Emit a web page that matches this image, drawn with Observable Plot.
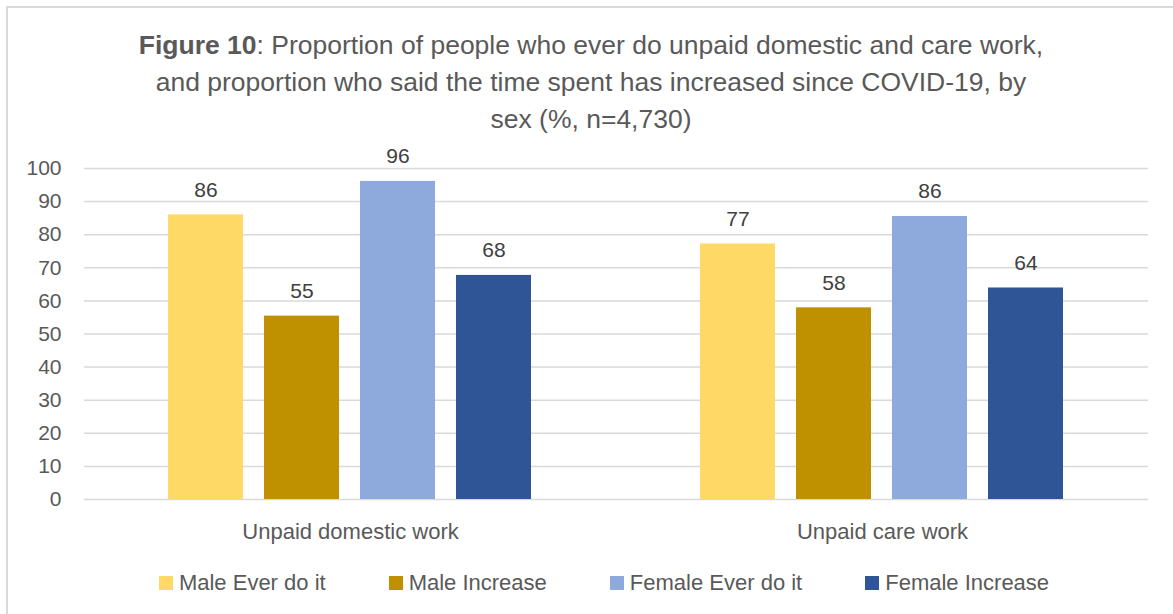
<!DOCTYPE html>
<html><head><meta charset="utf-8">
<script src="https://cdn.jsdelivr.net/npm/d3@7"></script>
<script src="https://cdn.jsdelivr.net/npm/@observablehq/plot@0.6"></script>
<style>
body{margin:0;background:#fff;font-family:"Liberation Sans",Arial,sans-serif;color:#595959}
#frame{position:relative;width:1173px;height:614px;overflow:hidden;background:#fff}
#border{position:absolute;left:6px;top:6px;width:1300px;height:700px;border-left:2px solid #d9d9d9;border-top:2px solid #d9d9d9}
#title{position:absolute;top:27px;left:0;width:1182px;text-align:center;font-size:26.5px;line-height:37px;color:#595959}
#chart{position:absolute;left:0;top:140px}
#legend{position:absolute;top:570px;left:0;width:1208px;display:flex;justify-content:center;gap:63px;font-size:22px;color:#595959}
.item{display:flex;align-items:center;white-space:nowrap}
.sw{width:14px;height:14px;margin-right:6px;display:inline-block}
</style></head>
<body>
<div id="frame">
<div id="border"></div>
<div id="title"><b>Figure 10</b>: Proportion of people who ever do unpaid domestic and care work,<br>and proportion who said the time spent has increased since COVID-19, by<br>sex (%, n=4,730)</div>
<div id="chart"></div>
<div id="legend"></div>
</div>
<script>
const categories = ["Unpaid domestic work", "Unpaid care work"];
const seriesNames = ["Male Ever do it", "Male Increase", "Female Ever do it", "Female Increase"];
const maleEver = [86.0, 77.2];
const maleIncrease = [55.4, 57.9];
const femaleEver = [96.1, 85.5];
const femaleIncrease = [67.7, 63.9];
const yTicks = [0, 10, 20, 30, 40, 50, 60, 70, 80, 90, 100];
const colors = ["#FFD966", "#BF9000", "#8EA9DB", "#2F5597"];

const seriesValues = [maleEver, maleIncrease, femaleEver, femaleIncrease];
const data = categories.flatMap((c, i) => seriesNames.map((s, j) => ({category: c, series: s, value: seriesValues[j][i]})));

const chart = Plot.plot({
  width: 1173, height: 410,
  marginLeft: 83, marginRight: 25, marginTop: 28, marginBottom: 51,
  style: {fontFamily: "Liberation Sans, Arial, sans-serif", fontSize: "21px", color: "#595959", background: "transparent", overflow: "visible"},
  fx: {domain: categories, padding: 0, label: null},
  x: {domain: seriesNames, axis: null, paddingInner: 0.216, paddingOuter: 0.856},
  y: {domain: [0, 100], label: null},
  color: {domain: seriesNames, range: colors},
  marks: [
    Plot.ruleY(yTicks, {stroke: "#d9d9d9", strokeWidth: 1.5}),
    Plot.axisY(yTicks, {tickSize: 0, tickPadding: 23, label: null, fontSize: 21, fill: "#595959"}),
    Plot.axisFx({anchor: "bottom", tickSize: 0, tickPadding: 24, label: null, fontSize: 22, fill: "#595959"}),
    Plot.barY(data, {fx: "category", x: "series", y: "value", fill: "series"}),
    Plot.text(data, {fx: "category", x: "series", y: "value", text: d => String(Math.round(d.value)), dy: -25, fontSize: 21, fill: "#404040"})
  ]
});
document.getElementById("chart").appendChild(chart);

const legend = document.getElementById("legend");
seriesNames.forEach((s, i) => {
  const it = document.createElement("div");
  it.className = "item";
  const sw = document.createElement("span");
  sw.className = "sw";
  sw.style.background = colors[i];
  it.appendChild(sw);
  it.appendChild(document.createTextNode(s));
  legend.appendChild(it);
});
</script>
</body></html>
